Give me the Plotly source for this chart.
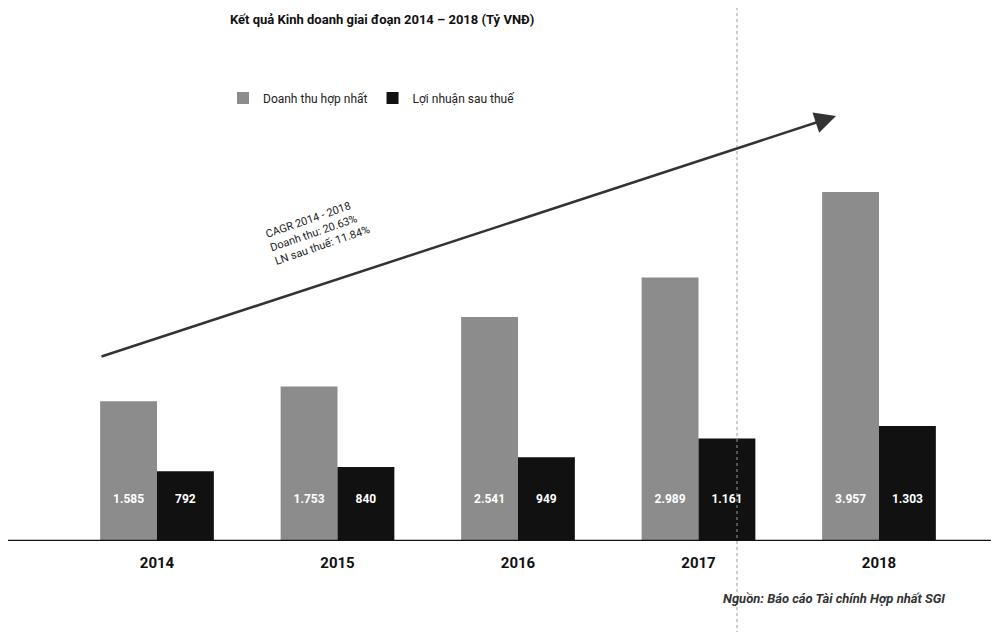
import plotly.graph_objects as go

years = ["2014", "2015", "2016", "2017", "2018"]
revenue = [1585, 1753, 2541, 2989, 3957]
profit = [792, 840, 949, 1161, 1303]
revenue_labels = ["1.585", "1.753", "2.541", "2.989", "3.957"]
profit_labels = ["792", "840", "949", "1.161", "1.303"]

title = "Kết quả Kinh doanh giai đoạn 2014 – 2018 (Tỷ VNĐ)"
name_rev = "Doanh thu hợp nhất"
name_pro = "Lợi nhuận sau thuế"
cagr_text = "CAGR 2014 - 2018<br>Doanh thu: 20.63%<br>LN sau thuế: 11.84%"
source_text = "Nguồn: Báo cáo Tài chính Hợp nhất SGI"

W, H = 999, 632
OFF = 8  # default page body margin
FONT = "Roboto, Liberation Sans, sans-serif"
GREY = "#8c8c8c"
BLACK = "#111111"
LABEL_Y = 470  # data units where the in-bar labels sit

baseline_px = 541
plot_h = baseline_px - OFF
plot_w = W


def px(xp):
    return (xp - OFF) / plot_w


def py(yp):
    return (baseline_px - yp) / plot_h


fig = go.Figure()
fig.add_trace(go.Bar(x=years, y=revenue, name=name_rev, marker=dict(color=GREY, line=dict(width=0)),
                     offsetgroup="a"))
fig.add_trace(go.Bar(x=years, y=profit, name=name_pro, marker=dict(color=BLACK, line=dict(width=0)),
                     offsetgroup="b"))
fig.add_trace(go.Scatter(x=years, y=[LABEL_Y] * len(years), mode="text", text=revenue_labels,
                         textfont=dict(color="white", size=12, family=FONT, weight="bold"), offsetgroup="a",
                         showlegend=False, hoverinfo="skip"))
fig.add_trace(go.Scatter(x=years, y=[LABEL_Y] * len(years), mode="text", text=profit_labels,
                         textfont=dict(color="white", size=12, family=FONT, weight="bold"), offsetgroup="b",
                         showlegend=False, hoverinfo="skip"))

px_per_unit = 180.5
r0 = -(157 - OFF) / px_per_unit
r1 = r0 + plot_w / px_per_unit
units_per_px = 11.34
ymax = plot_h * units_per_px

fig.update_layout(
    width=W, height=H,
    margin=dict(l=0, r=0, t=0, b=H - plot_h),
    paper_bgcolor="white", plot_bgcolor="white",
    barmode="group", scattermode="group", bargap=0.37, bargroupgap=0.0,
    showlegend=True,
    legend=dict(orientation="h", x=px(223), y=py(98), xanchor="left", yanchor="middle",
                font=dict(family=FONT, size=12, color="#222"), itemwidth=30, traceorder="normal",
                bgcolor="rgba(0,0,0,0)"),
    xaxis=dict(type="category", range=[r0, r1], showgrid=False, zeroline=False, ticklabelstandoff=11,
               showline=False, ticks="", tickfont=dict(family=FONT, size=15, color="#111", weight="bold")),
    yaxis=dict(range=[0, ymax], visible=False),
    font=dict(family=FONT),
)

# baseline
fig.add_shape(type="line", xref="paper", yref="y", x0=0, x1=1, y0=0, y1=0,
              line=dict(color="#111", width=2.5))
# faint scan fold line
fig.add_shape(type="line", xref="paper", yref="paper", x0=px(737), x1=px(737), y0=py(640), y1=py(0),
              line=dict(color="#999", width=1, dash="dot"))

# title
fig.add_annotation(text="<b>" + title + "</b>", xref="paper", yref="paper", x=px(382), y=py(19),
                   showarrow=False, font=dict(family=FONT, size=13, color="#111"), xanchor="center", yanchor="middle")
# growth arrow
fig.add_annotation(xref="paper", yref="paper", x=px(836), y=py(116),
                   ax=100 - 836, ay=357 - 116, axref="pixel", ayref="pixel",
                   showarrow=True, arrowhead=2, arrowsize=1.7, arrowwidth=2.5, arrowcolor="#333", text="")
# CAGR text
fig.add_annotation(text=cagr_text, xref="paper", yref="paper", x=px(318), y=py(232),
                   showarrow=False, textangle=-19, align="left",
                   font=dict(family=FONT, size=11, color="#222"), xanchor="center", yanchor="middle")
# source
fig.add_annotation(text="<b><i>" + source_text + "</i></b>", xref="paper", yref="paper", x=px(947),
                   y=py(598), showarrow=False, xanchor="right", yanchor="middle",
                   font=dict(family=FONT, size=13, color="#333"))

fig.write_html("out.html")
